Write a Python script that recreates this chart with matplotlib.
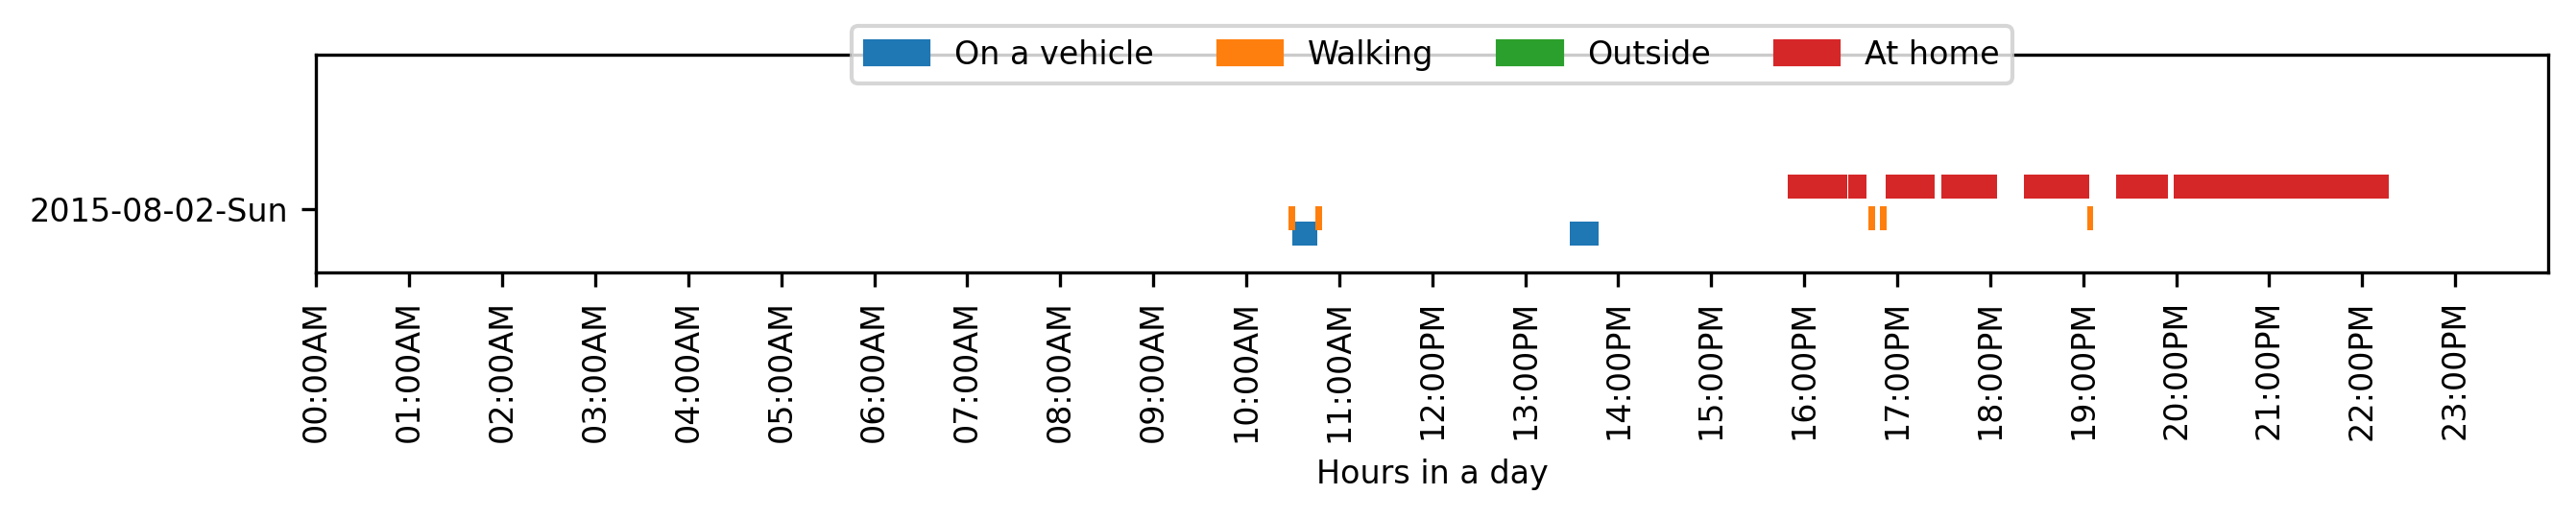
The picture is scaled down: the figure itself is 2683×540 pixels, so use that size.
import matplotlib
matplotlib.use('Agg')
import matplotlib.pyplot as plt
import matplotlib.patches as mpatches

plt.rcParams['font.size'] = 8

# データ ------------------------------------
day_label = '2015-08-02-Sun'
hours = list(range(24))
hour_labels = ['{0:02d}:00{1}'.format(h, 'AM' if h < 12 else 'PM') for h in hours]

# (開始, 終了) 時刻 [h]
vehicle = [(10.496, 10.764), (13.478, 13.788)]
walking = [(10.455, 10.527), (10.744, 10.815), (16.689, 16.761),
           (16.813, 16.887), (19.044, 19.104)]
outside = []
home = [(15.823, 16.464), (16.472, 16.670), (16.873, 17.404),
        (17.473, 18.071), (18.362, 19.063), (19.352, 19.910),
        (19.970, 22.285)]

names = ['On a vehicle', 'Walking', 'Outside', 'At home']
colors = ['tab:blue', 'tab:orange', 'tab:green', 'tab:red']
y_off = [-1.508, -0.868, 0.45, 0.452]  # 各状態の縦位置 (バーの高さ=1)

# 図 ----------------------------------------
fig = plt.figure(figsize=(2683 / 300, 540 / 300), dpi=300)
ax = fig.add_axes([0.1228, 0.4741, 0.8664, 0.4198])

for data, c, y in zip([vehicle, walking, outside, home], colors, y_off):
    if len(data) == 0:
        continue
    ax.broken_barh([(s, e - s) for s, e in data], (y, 1), facecolors=c)

ax.set_xlim(0, 24)
ax.set_ylim(-2.63, 6.44)
ax.set_xticks(hours)
ax.set_xticklabels(hour_labels, rotation=90)
ax.set_yticks([0])
ax.set_yticklabels([day_label])
ax.set_xlabel('Hours in a day')

handles = [mpatches.Patch(color=c, label=n) for c, n in zip(colors, names)]
ax.legend(handles=handles, loc='center', bbox_to_anchor=(0.5, 1.0), ncol=4)

plt.savefig('out.png', dpi=300)
